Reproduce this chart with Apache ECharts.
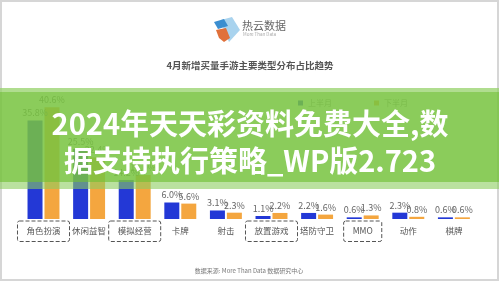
<!DOCTYPE html>
<html>
<head>
<meta charset="utf-8">
<script src="https://cdn.jsdelivr.net/npm/echarts@6/dist/echarts.min.js"></script>
<style>
  html, body { margin: 0; padding: 0; background: #fff; }
  #main { width: 499px; height: 281px; }
</style>
</head>
<body>
<div id="main"></div>
<script>
  // 数据
  var categories = ['角色扮演', '休闲益智', '模拟经营', '卡牌', '射击', '放置游戏', '塔防守卫', 'MMO', '动作', '棋牌'];
  var firstHalf = [35.8, 25.5, 14.2, 6.0, 3.1, 1.1, 2.2, 0.6, 2.3, 0.6];
  var secondHalf = [40.6, 22.4, 16.0, 5.6, 2.3, 2.2, 1.6, 1.3, 0.8, 0.6];
  var seriesNames = ['上半月', '下半月'];
  var boxed = ['角色扮演', '模拟经营', '放置游戏', 'MMO'];

  var myChart = echarts.init(document.getElementById('main'));
  var font = '"Noto Sans CJK SC", "Noto Sans", sans-serif';

  function pct(p) { return p.value.toFixed(1) + '%'; }

  var option = {
    backgroundColor: '#fff',
    animation: false,
    color: ['#2338d6', '#f4a63f'],
    textStyle: { fontFamily: font },
    legend: {
      data: seriesNames,
      left: 293,
      top: 94,
      itemWidth: 5,
      itemHeight: 5,
      itemGap: 42,
      icon: 'rect',
      textStyle: { fontSize: 8, color: '#888', fontFamily: font }
    },
    grid: { left: 20.7, right: 22.3, top: 81.5, bottom: 62 },
    xAxis: {
      type: 'category',
      data: categories,
      axisLine: { show: false },
      axisTick: { show: false },
      axisLabel: {
        margin: 2,
        interval: 0,
        formatter: function (v) {
          return boxed.indexOf(v) >= 0 ? '{box|' + v + '}' : '{plain|' + v + '}';
        },
        rich: {
          box: {
            fontSize: 8.5, color: '#555', fontFamily: font,
            padding: [6, 9, 6, 9],
            borderColor: '#555', borderWidth: 1, borderType: 'dashed', borderRadius: 2
          },
          plain: {
            fontSize: 8.5, color: '#555', fontFamily: font,
            padding: [6, 9, 6, 9]
          }
        }
      }
    },
    yAxis: { type: 'value', min: 0, max: 50, show: false, splitLine: { show: false } },
    series: [
      {
        name: seriesNames[0], type: 'bar', data: firstHalf,
        barWidth: 15, barGap: '13%',
        label: { show: true, position: 'top', distance: 3, fontSize: 9, color: '#666', formatter: pct }
      },
      {
        name: seriesNames[1], type: 'bar', data: secondHalf,
        barWidth: 15,
        label: { show: true, position: 'top', distance: 3, fontSize: 9, color: '#666', formatter: pct }
      }
    ],
    graphic: [
      // 外框
      { type: 'rect', z: 100, silent: true,
        shape: { x: 1, y: 1, width: 497, height: 279 },
        style: { fill: 'none', stroke: '#d6d6d6', lineWidth: 2 } },
      // logo
      { type: 'polygon', z: 100, shape: { points: [[221, 20], [232, 17], [240, 30], [229, 42], [224, 30]] },
        style: { fill: '#a9d3ee' } },
      { type: 'polygon', z: 101, shape: { points: [[214, 22], [224, 19], [228, 26], [218, 29]] },
        style: { fill: '#3b8ed0' } },
      { type: 'polygon', z: 101, shape: { points: [[216, 30], [226, 28], [230, 38], [224, 42], [219, 38]] },
        style: { fill: '#e0703a' } },
      { type: 'text', z: 100, style: { x: 242, y: 26, text: '热云数据', fontSize: 11, fill: '#666',
        fontFamily: font, verticalAlign: 'middle' } },
      { type: 'text', z: 100, style: { x: 243, y: 34.5, text: 'More Than Data', fontSize: 4.5, fill: '#aaa',
        fontFamily: font, verticalAlign: 'middle' } },
      // 标题
      { type: 'text', z: 100, style: { x: 250, y: 65, text: '4月新增买量手游主要类型分布占比趋势', fontSize: 9.5,
        fontWeight: 'bold', fill: '#555', fontFamily: font, align: 'center', verticalAlign: 'middle' } },
      // 数据来源
      { type: 'text', z: 100, style: { x: 249, y: 271, text: '数据来源: More Than Data 数据研究中心', fontSize: 6,
        fill: '#777', fontFamily: font, align: 'center', verticalAlign: 'middle' } },
      // 绿色横幅
      { type: 'rect', z: 200, silent: true, shape: { x: 0, y: 88, width: 499, height: 4 },
        style: { fill: 'rgba(150,210,105,0.75)' } },
      { type: 'rect', z: 200, silent: true, shape: { x: 0, y: 92, width: 499, height: 90 },
        style: { fill: 'rgba(120,196,64,0.86)' } },
      { type: 'rect', z: 200, silent: true, shape: { x: 0, y: 182, width: 499, height: 7 },
        style: { fill: 'rgba(140,205,95,0.6)' } },
      { type: 'text', z: 202, style: { x: 250, y: 124, text: '2024年天天彩资料免费大全,数', fontSize: 29,
        fontWeight: 'bold', fill: '#fff', fontFamily: font, align: 'center', verticalAlign: 'middle' } },
      { type: 'text', z: 202, style: { x: 250, y: 161, text: '据支持执行策略_WP版2.723', fontSize: 29,
        fontWeight: 'bold', fill: '#fff', fontFamily: font, align: 'center', verticalAlign: 'middle' } }
    ]
  };
  myChart.setOption(option);
</script>
</body>
</html>
